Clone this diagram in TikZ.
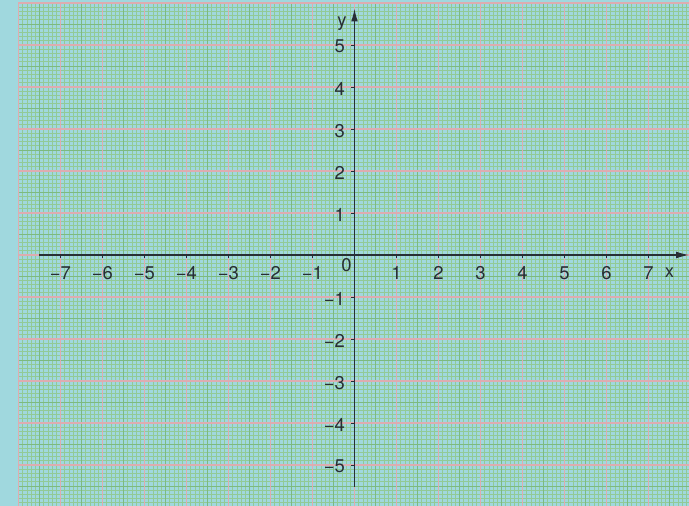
\documentclass[tikz,border=0pt]{standalone}
\usepackage{fontspec}
\setmainfont{TeX Gyre Heros}
\usetikzlibrary{arrows.meta}
\definecolor{paperbg}{RGB}{160,216,222}
\definecolor{finegreen}{RGB}{146,202,150}
\definecolor{halfgreen}{RGB}{124,186,128}
\definecolor{unitred}{RGB}{222,172,176}
\definecolor{axisgray}{RGB}{40,46,52}

\begin{document}
\begin{tikzpicture}[every node/.style={font=\fontsize{12.5}{14}\selectfont, text=axisgray, inner sep=0pt},
  axis/.style={axisgray, line width=0.7pt, -{Latex[length=3mm,width=1.6mm]}},
  tick/.style={axisgray, line width=0.4pt}]
\useasboundingbox (-8.44,-5.976) rectangle (7.964,6.071);
\fill[paperbg] (-8.44,-5.976) rectangle (7.964,6.071);

% graph paper
\draw[finegreen, line width=0.45pt, step=0.1] (-8,-5.976) grid (7.964,6);
\draw[halfgreen, line width=0.5pt, step=0.5] (-8,-5.976) grid (7.964,6);
\draw[unitred, line width=0.8pt, step=1] (-8,-5.976) grid (7.964,6);

% axes
\coordinate (xstart) at (-7.5,0);
\coordinate (xend) at (7.96,0);
\coordinate (ystart) at (0,-5.52);
\coordinate (yend) at (0,5.86);
\draw[axis] (xstart) -- (xend);
\draw[axis] (ystart) -- (yend);
\node (xname) at (7.5,-0.43) {x};
\node (yname) at (-0.3,5.5) {y};
\node (origin) at (-0.19,-0.24) {0};

% ticks and numbers
\foreach \x in {1,...,7} {
  \draw[tick] (\x,0) -- (\x,-0.08);
  \node (xp\x) at (\x,-0.43) {\x};
  \draw[tick] (-\x,0) -- (-\x,-0.08);
  \node (xn\x) at (-\x,-0.43) {−\x};
}
\foreach \y in {1,...,5} {
  \draw[tick] (0,\y) -- (-0.08,\y);
  \node[anchor=east] (yp\y) at (-0.22,\y-0.04) {\y};
  \draw[tick] (0,-\y) -- (-0.08,-\y);
  \node[anchor=east] (yn\y) at (-0.22,-\y-0.04) {−\y};
}
\end{tikzpicture}
\end{document}
